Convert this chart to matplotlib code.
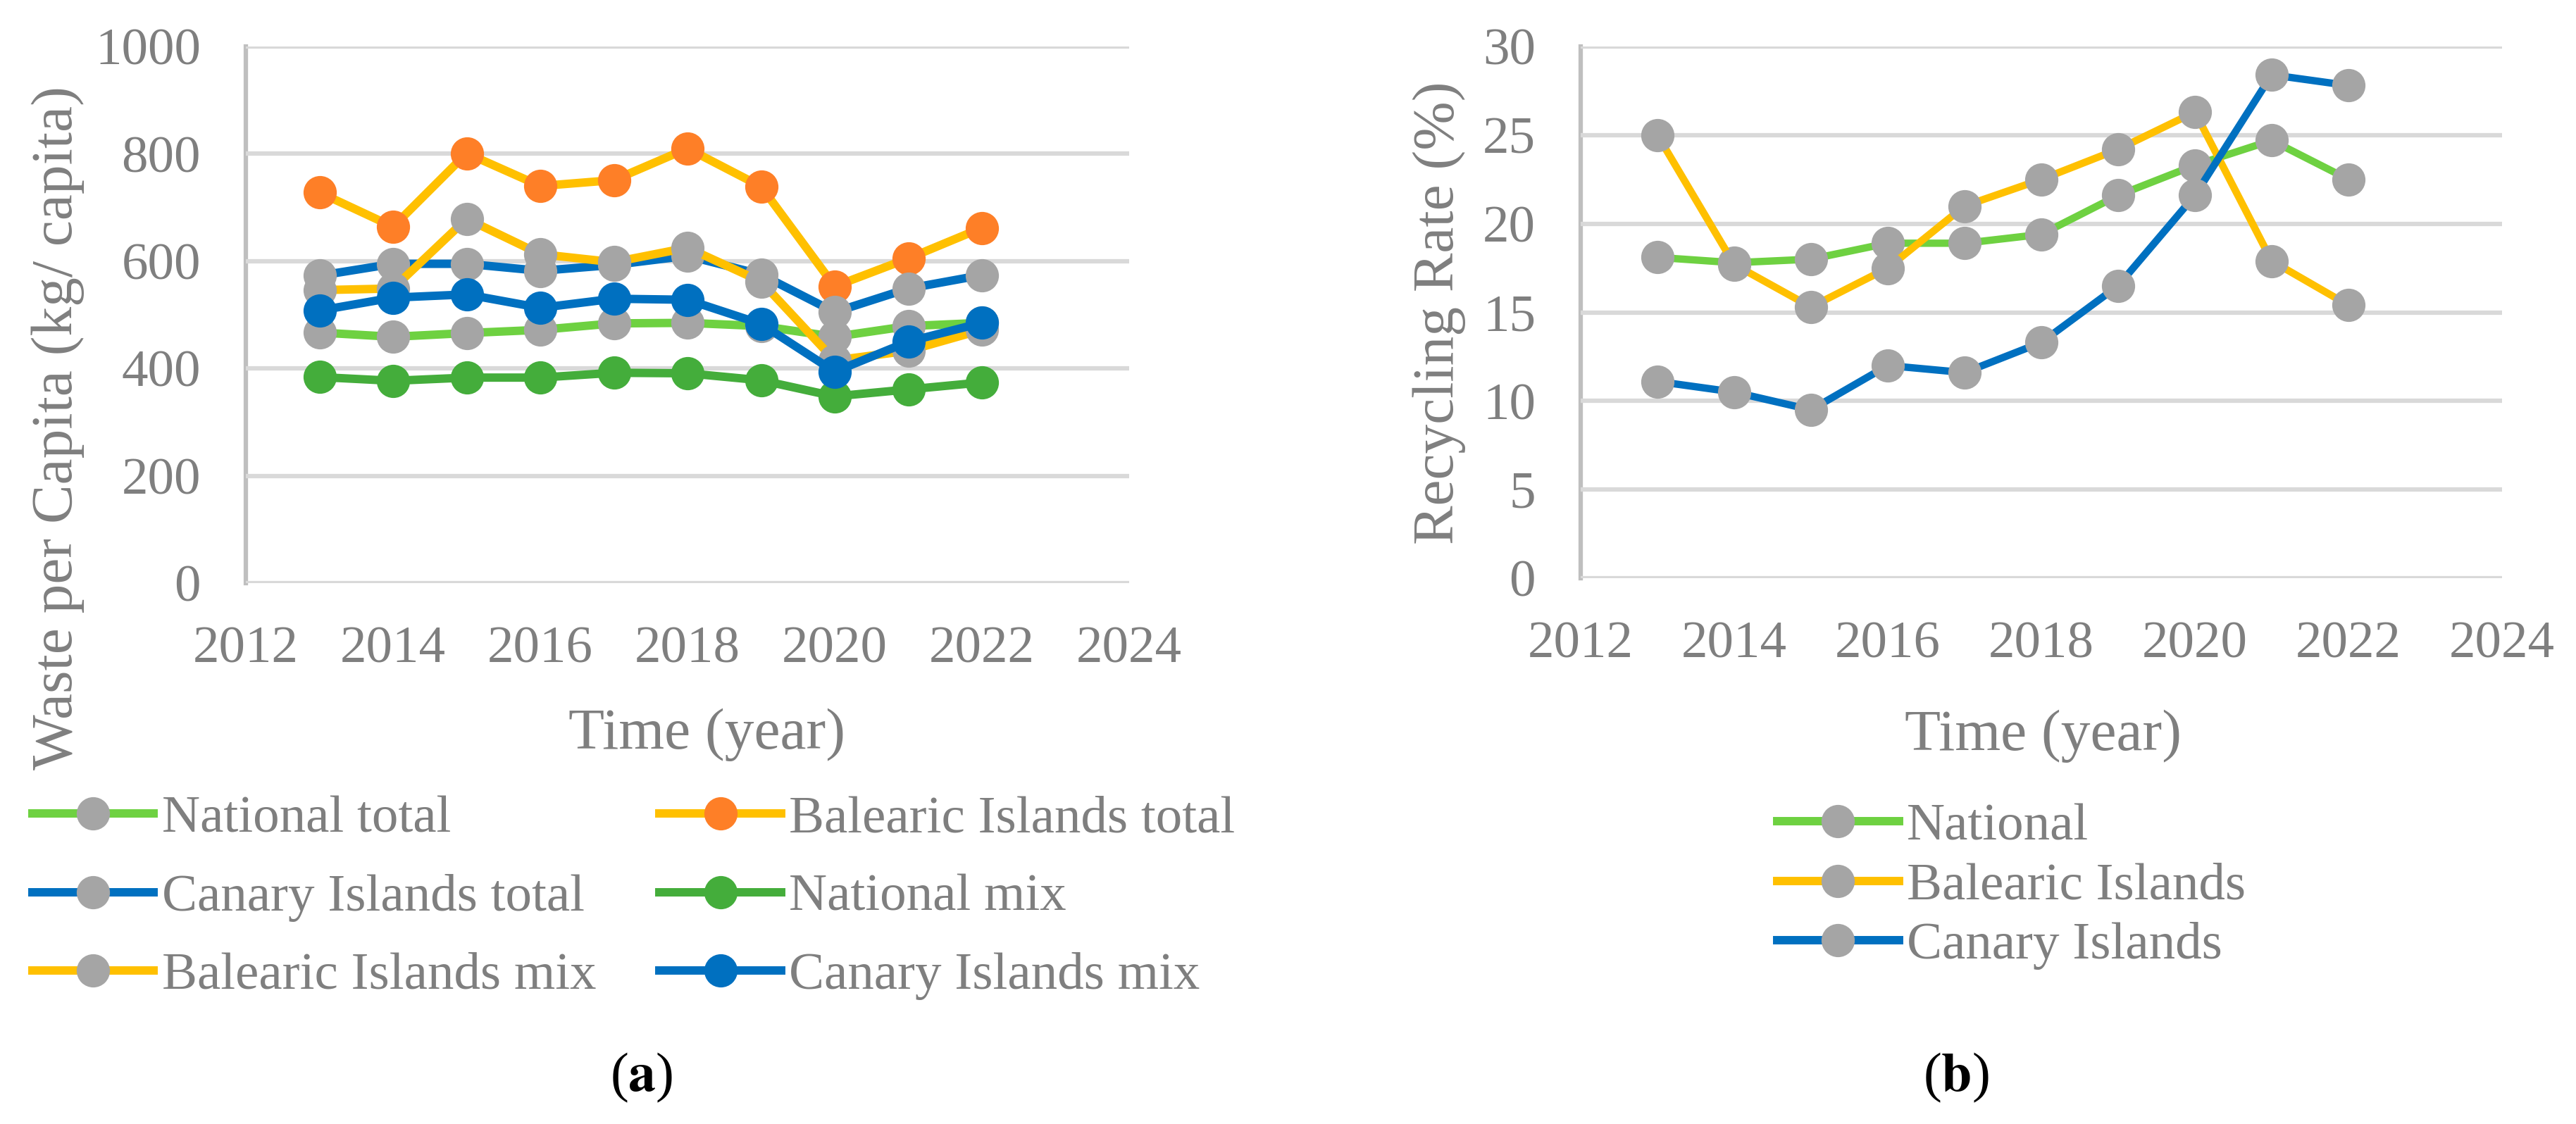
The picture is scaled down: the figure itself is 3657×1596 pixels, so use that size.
import matplotlib
matplotlib.use("Agg")
import matplotlib.pyplot as plt
from matplotlib.lines import Line2D

# ---------------- data ----------------
years = [2013, 2014, 2015, 2016, 2017, 2018, 2019, 2020, 2021, 2022]

# (a) waste per capita (kg/capita)
national_total = [467, 459, 466, 472, 484, 485, 479, 459, 479, 485]
balearic_total = [728, 664, 801, 740, 751, 810, 739, 553, 605, 662]
canary_total = [573, 595, 595, 582, 593, 610, 575, 505, 549, 574]
national_mix = [384, 377, 383, 383, 392, 391, 378, 348, 361, 374]
balearic_mix = [546, 549, 679, 613, 598, 625, 562, 415, 433, 472]
canary_mix = [508, 532, 538, 513, 530, 528, 483, 394, 450, 485]

# (b) recycling rate (%)
rr_national = [18.1, 17.8, 18.0, 18.9, 18.9, 19.4, 21.6, 23.3, 24.7, 22.5]
rr_balearic = [25.0, 17.7, 15.3, 17.5, 21.0, 22.5, 24.2, 26.3, 17.9, 15.4]
rr_canary = [11.1, 10.5, 9.5, 12.0, 11.6, 13.3, 16.5, 21.6, 28.4, 27.8]

x_ticks = [2012, 2014, 2016, 2018, 2020, 2022, 2024]
left_yticks = [0, 200, 400, 600, 800, 1000]
right_yticks = [0, 5, 10, 15, 20, 25, 30]

left_labels = ["National total", "Balearic Islands total", "Canary Islands total",
               "National mix", "Balearic Islands mix", "Canary Islands mix"]
right_labels = ["National", "Balearic Islands", "Canary Islands"]

# ---------------- style ----------------
LGREEN = "#6ED141"
GREEN = "#44AD3B"
YELLOW = "#FFC000"
ORANGE = "#FE7F27"
BLUE = "#0070C0"
GRAY = "#A5A5A5"
TXT = "#7F7F7F"
GRID = "#D9D9D9"
SPINE = "#BFBFBF"

plt.rcParams["font.family"] = ["Liberation Serif", "DejaVu Serif"]
plt.rcParams["mathtext.fontset"] = "stix"

W, H = 3657, 1596
fig = plt.figure(figsize=(W / 100, H / 100), dpi=100)

def px_axes(l, r, t, b):
    return fig.add_axes([l / W, 1 - b / H, (r - l) / W, (b - t) / H])

ax1 = px_axes(349, 1603, 66, 828)
ax2 = px_axes(2244, 3552, 66, 821)

LW = 8.6
MS = 34

def style(ax, yticks, ypad):
    ax.set_xlim(2012, 2024)
    ax.set_ylim(yticks[0], yticks[-1])
    ax.set_xticks(x_ticks)
    ax.set_yticks(yticks)
    ax.grid(axis="y", color=GRID, linewidth=4.5, zorder=0)
    ax.set_axisbelow(True)
    for s in ["top", "right", "bottom"]:
        ax.spines[s].set_visible(False)
    ax.spines["left"].set_color(SPINE)
    ax.spines["left"].set_linewidth(4.5)
    ax.spines["left"].set_zorder(0.5)
    ax.tick_params(axis="x", length=0, pad=44, labelsize=54, labelcolor=TXT)
    ax.tick_params(axis="y", length=0, pad=ypad, labelsize=54, labelcolor=TXT)

style(ax1, left_yticks, 46)
style(ax2, right_yticks, 46)

# ---------------- (a) ----------------
series_a = [
    (national_total, LGREEN, GRAY),
    (balearic_total, YELLOW, ORANGE),
    (canary_total, BLUE, GRAY),
    (national_mix, GREEN, GREEN),
    (balearic_mix, YELLOW, GRAY),
    (canary_mix, BLUE, BLUE),
]
handles_a = []
for (vals, lc, mc), lab in zip(series_a, left_labels):
    ax1.plot(years, vals, color=lc, lw=LW, marker="o", ms=MS,
             mfc=mc, mec=mc, mew=0, zorder=3, solid_joinstyle="miter")
    handles_a.append(Line2D([], [], color=lc, lw=LW, marker="o", ms=MS,
                            mfc=mc, mec=mc, mew=0, label=lab))

# ---------------- (b) ----------------
series_b = [(rr_national, LGREEN), (rr_balearic, YELLOW), (rr_canary, BLUE)]
handles_b = []
for (vals, lc), lab in zip(series_b, right_labels):
    ax2.plot(years, vals, color=lc, lw=7.5, marker="o", ms=MS,
             mfc=GRAY, mec=GRAY, mew=0, zorder=3)
    handles_b.append(Line2D([], [], color=lc, lw=LW, marker="o", ms=MS,
                            mfc=GRAY, mec=GRAY, mew=0, label=lab))

# ---------------- titles ----------------
fig.text(82 / W, 1 - 608 / H, "Waste per Capita (kg/ capita)", rotation=90,
         ha="center", va="center", fontsize=60, color=TXT)
fig.text(2043 / W, 1 - 444 / H, "Recycling Rate (%)", rotation=90,
         ha="center", va="center", fontsize=60, color=TXT)
fig.text(1003 / W, 1 - 1043 / H, "Time (year)", ha="center", va="center",
         fontsize=60, color=TXT)
fig.text(2900 / W, 1 - 1045 / H, "Time (year)", ha="center", va="center",
         fontsize=60, color=TXT)

fig.text(911 / W, 1 - 1530 / H, r"($\mathbf{a}$)", ha="center", va="center",
         fontsize=56, color="black")
fig.text(2777 / W, 1 - 1530 / H, r"($\mathbf{b}$)", ha="center", va="center",
         fontsize=56, color="black")

# ---------------- legends ----------------
order = [0, 2, 4, 1, 3, 5]
leg1 = fig.legend([handles_a[i] for i in order], [left_labels[i] for i in order],
                  loc="upper left", bbox_to_anchor=(46 / W, 1 - 1129 / H),
                  ncol=2, frameon=False, fontsize=54, handlelength=2.3,
                  handletextpad=0.15, labelspacing=0.57, columnspacing=1.2,
                  borderpad=0, borderaxespad=0, labelcolor=TXT)
leg2 = fig.legend(handles_b, right_labels,
                  loc="upper left", bbox_to_anchor=(2523 / W, 1 - 1140 / H),
                  ncol=1, frameon=False, fontsize=54, handlelength=2.3,
                  handletextpad=0.15, labelspacing=0.21,
                  borderpad=0, borderaxespad=0, labelcolor=TXT)

fig.savefig("out.png", dpi=100, facecolor="white")
